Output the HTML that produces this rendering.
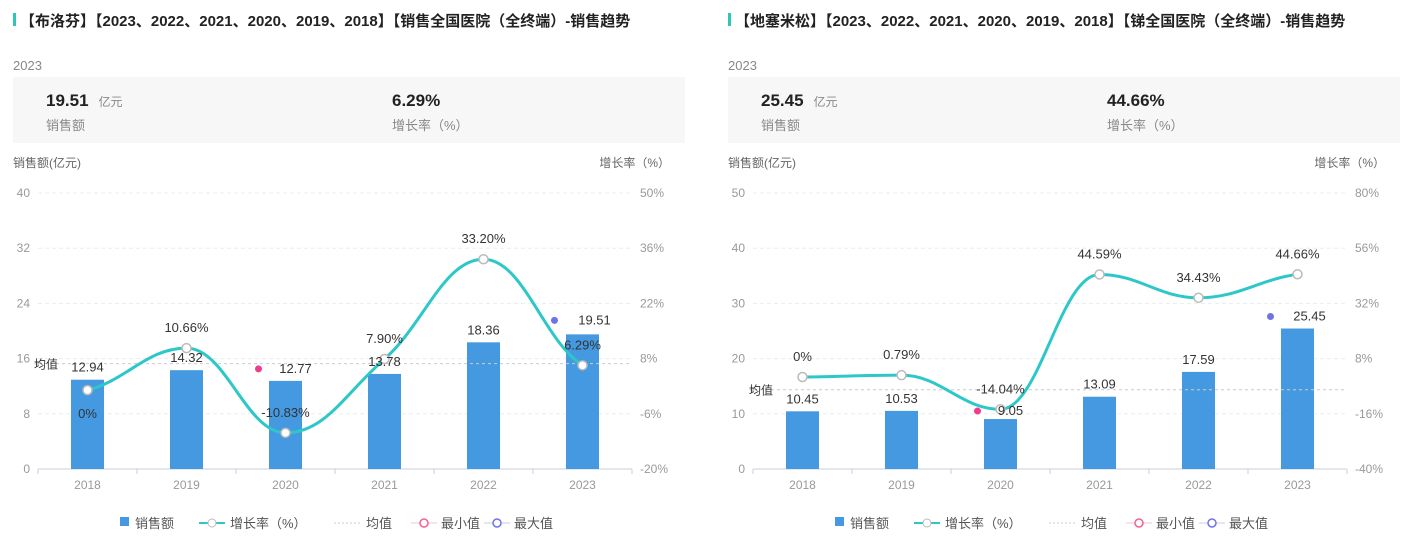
<!DOCTYPE html>
<html><head><meta charset="utf-8"><style>
body{margin:0;width:1408px;height:539px;background:#fff;font-family:"Liberation Sans","Noto Sans CJK SC",sans-serif;overflow:hidden;position:relative}
svg{position:absolute;left:0;top:0}
</style></head><body>
<svg id="s" width="1408" height="539" xmlns="http://www.w3.org/2000/svg" font-family="Liberation Sans, Noto Sans CJK SC, sans-serif"></svg>
<script>
var S=document.getElementById('s'),h='';
function T(x,y,t,o){o=o||{};h+='<text x="'+x+'" y="'+y+'" font-size="'+(o.s||12)+'" fill="'+(o.c||'#999')+'" text-anchor="'+(o.a||'start')+'"'+(o.b?' font-weight="bold"':'')+'>'+t+'</text>';}
function panel(ox,title,val,gr,lt,rt,lmax,rmin,rmax,bars,grs){
 h+='<rect x="'+(ox+13)+'" y="13" width="3" height="13" fill="#2ec7b5"/>';
 T(ox+20,26,title,{s:15,c:'#222',b:1});
 T(ox+13,70,'2023',{s:13,c:'#888'});
 h+='<rect x="'+(ox+13)+'" y="77" width="672" height="66" fill="#f7f7f7"/>';
 T(ox+46,106,val,{s:17,c:'#222',b:1});
 T(ox+46+val.length*9.5+5,106,'亿元',{s:12,c:'#888'});
 T(ox+46,130,'销售额',{s:13,c:'#888'});
 T(ox+392,106,gr,{s:17,c:'#222',b:1});
 T(ox+392,130,'增长率（%）',{s:13,c:'#888'});
 T(ox+13,167,'销售额(亿元)',{s:12,c:'#666'});
 T(ox+670,167,'增长率（%）',{s:12,c:'#666',a:'end'});
 var x0=ox+38,x1=ox+632,y0=469,yt=193,bw=(x1-x0)/6;
 for(var i=0;i<=5;i++){var y=y0-i*(y0-yt)/5;
  if(i>0)h+='<line x1="'+x0+'" x2="'+x1+'" y1="'+y+'" y2="'+y+'" stroke="#e8eef0" stroke-dasharray="4,3"/>';
  T(ox+30,y+4,lt[i],{c:'#999',a:'end'});T(ox+640,y+4,rt[i],{c:'#999'});}
 h+='<line x1="'+x0+'" x2="'+x1+'" y1="'+y0+'" y2="'+y0+'" stroke="#ccd"/>';
 for(i=0;i<=6;i++)h+='<line x1="'+(x0+i*bw)+'" x2="'+(x0+i*bw)+'" y1="'+y0+'" y2="'+(y0+5)+'" stroke="#ccd"/>';
 var sum=0,pts=[];
 bars.forEach(function(b,i){sum+=b;var cx=x0+bw*(i+.5),bh=b/lmax*(y0-yt);
  h+='<rect x="'+(cx-16.5)+'" y="'+(y0-bh)+'" width="33" height="'+bh+'" fill="#4599e0"/>';
  T(cx,y0+20,2018+i,{c:'#999',a:'middle'});
  pts.push([cx,y0-(grs[i]-rmin)/(rmax-rmin)*(y0-yt)]);});
 var my=y0-sum/6/lmax*(y0-yt);
 h+='<line x1="'+x0+'" x2="'+x1+'" y1="'+my+'" y2="'+my+'" stroke="#ccc" stroke-dasharray="3,3"/>';
 h+='<path d="M'+(x0-4)+' '+my+'l5 -3v6z" fill="#ccc"/>';
 T(x0-4,my+5,'均值',{s:12,c:'#333'});
 // slopes
 var m=[];
 for(i=0;i<6;i++){
  if(i==0||i==5){m.push(0);continue;}
  var a=pts[i][1]-pts[i-1][1],b=pts[i+1][1]-pts[i][1];
  m.push(a*b<=0?0:(a+b)/2);
 }
 var d='M'+pts[0][0]+' '+pts[0][1],k=0.4;
 for(i=0;i<5;i++){var p1=pts[i],p2=pts[i+1],dx=p2[0]-p1[0];
  var m1=i==0?(p2[1]-p1[1])*0.6:m[i],m2=i==4?(p2[1]-p1[1])*0.6:m[i+1];
  d+=' C'+(p1[0]+dx*k)+','+(p1[1]+m1*k)+' '+(p2[0]-dx*k)+','+(p2[1]-m2*k)+' '+p2[0]+','+p2[1];}
 h+='<path d="'+d+'" fill="none" stroke="#2ec7c9" stroke-width="3"/>';
 pts.forEach(function(p){h+='<circle cx="'+p[0]+'" cy="'+p[1]+'" r="4.5" fill="#fff" stroke="#bbb" stroke-width="1.5"/>';});
 return {pts:pts,cx:function(i){return x0+bw*(i+.5)},by:function(i){return y0-bars[i]/lmax*(y0-yt)},ox:ox};
}
function L(ox){var y=523;
 h+='<rect x="'+(ox+120)+'" y="'+(y-6)+'" width="9" height="9" fill="#4599e0"/>';T(ox+135,y+5,'销售额',{s:13,c:'#555'});
 h+='<line x1="'+(ox+199)+'" x2="'+(ox+225)+'" y1="'+y+'" y2="'+y+'" stroke="#2ec7c9" stroke-width="2"/><circle cx="'+(ox+212)+'" cy="'+y+'" r="4" fill="#fff" stroke="#bbb"/>';T(ox+230,y+5,'增长率（%）',{s:13,c:'#555'});
 h+='<line x1="'+(ox+334)+'" x2="'+(ox+360)+'" y1="'+y+'" y2="'+y+'" stroke="#ccc" stroke-dasharray="2,2"/>';T(ox+366,y+5,'均值',{s:13,c:'#555'});
 h+='<line x1="'+(ox+411)+'" x2="'+(ox+437)+'" y1="'+y+'" y2="'+y+'" stroke="#f8c0d8"/><circle cx="'+(ox+424)+'" cy="'+y+'" r="4" fill="#fff" stroke="#f06292" stroke-width="1.5"/>';T(ox+441,y+5,'最小值',{s:13,c:'#555'});
 h+='<line x1="'+(ox+484)+'" x2="'+(ox+510)+'" y1="'+y+'" y2="'+y+'" stroke="#ccd"/><circle cx="'+(ox+497)+'" cy="'+y+'" r="4" fill="#fff" stroke="#6f73e8" stroke-width="1.5"/>';T(ox+514,y+5,'最大值',{s:13,c:'#555'});}
var A=panel(0,'【布洛芬】【2023、2022、2021、2020、2019、2018】【销售全国医院（全终端）-销售趋势','19.51','6.29%',[0,8,16,24,32,40],['-20%','-6%','8%','22%','36%','50%'],40,-20,50,[12.94,14.32,12.77,13.78,18.36,19.51],[0,10.66,-10.83,7.9,33.2,6.29]);
var B=panel(715,'【地塞米松】【2023、2022、2021、2020、2019、2018】【锑全国医院（全终端）-销售趋势','25.45','44.66%',[0,10,20,30,40,50],['-40%','-16%','8%','32%','56%','80%'],50,-40,80,[10.45,10.53,9.05,13.09,17.59,25.45],[0,0.79,-14.04,44.59,34.43,44.66]);
L(0);L(715);
var c={s:13,c:'#333',a:'middle'};
T(A.cx(0),A.by(0)-8,'12.94',c);T(A.cx(1),A.by(1)-8,'14.32',c);T(A.cx(2)+10,A.by(2)-8,'12.77',c);T(A.cx(3),A.by(3)-8,'13.78',c);T(A.cx(4),A.by(4)-8,'18.36',c);T(A.cx(5)+12,A.by(5)-10,'19.51',c);
h+='<circle cx="'+(A.cx(2)-27)+'" cy="'+(A.by(2)-12)+'" r="3.5" fill="#f03c8c"/><circle cx="'+(A.cx(5)-28)+'" cy="'+(A.by(5)-14)+'" r="3.5" fill="#6f73e8"/>';
var lp=['0%','10.66%','-10.83%','7.90%','33.20%','6.29%'];
A.pts.forEach(function(p,i){T(p[0],i==0?p[1]+28:p[1]-16,lp[i],c);});
T(B.cx(0),B.by(0)-8,'10.45',c);T(B.cx(1),B.by(1)-8,'10.53',c);T(B.cx(2)+10,B.by(2)-4,'9.05',c);T(B.cx(3),B.by(3)-8,'13.09',c);T(B.cx(4),B.by(4)-8,'17.59',c);T(B.cx(5)+12,B.by(5)-8,'25.45',c);
h+='<circle cx="'+(B.cx(2)-23)+'" cy="'+(B.by(2)-8)+'" r="3.5" fill="#f03c8c"/><circle cx="'+(B.cx(5)-27)+'" cy="'+(B.by(5)-12)+'" r="3.5" fill="#6f73e8"/>';
var rp=['0%','0.79%','-14.04%','44.59%','34.43%','44.66%'];
B.pts.forEach(function(p,i){T(p[0],p[1]-16,rp[i],c);});
S.innerHTML=h;
</script>
</body></html>
